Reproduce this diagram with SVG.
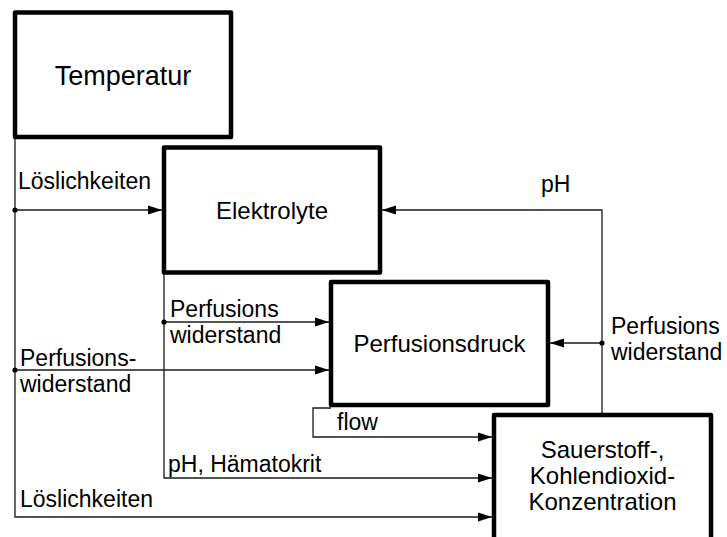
<svg xmlns="http://www.w3.org/2000/svg" width="727" height="537" viewBox="0 0 727 537">
  <style>
    .box { fill: #ffffff; stroke: #000000; stroke-width: 4.5; stroke-linejoin: round; }
    .node-text { font-family: "Liberation Sans", Arial, sans-serif; font-size: 24px; fill: #000000; text-anchor: middle; }
    .title-text { font-size: 27px; }
    .wire { fill: none; stroke: #1a1a1a; stroke-width: 1.3; }
    .arrow { marker-end: url(#head); }
    .label { font-family: "Liberation Sans", Arial, sans-serif; font-size: 23px; fill: #000000; }
    .joint { fill: #000000; }
  </style>
  <defs>
    <marker id="head" markerUnits="userSpaceOnUse" markerWidth="15" markerHeight="10" refX="14" refY="5" orient="auto">
      <path d="M0,0.5 L14,5 L0,9.5 Z" fill="#000000"/>
    </marker>
  </defs>
  <rect width="727" height="537" fill="#ffffff"/>

  <!-- connectors -->
  <g id="connectors">
    <!-- Temperatur trunk down the left side -->
    <path class="wire arrow" d="M15,137 V517 H492"/>
    <path class="wire arrow" d="M15,210 H162"/>
    <path class="wire arrow" d="M15,370 H329"/>
    <circle class="joint" cx="15" cy="210" r="2.6"/>
    <circle class="joint" cx="15" cy="370" r="2.6"/>

    <!-- Elektrolyte trunk -->
    <path class="wire arrow" d="M164,272 V478 H492"/>
    <path class="wire arrow" d="M164,322 H329"/>
    <circle class="joint" cx="164" cy="322" r="2.6"/>

    <!-- flow from Perfusionsdruck -->
    <path class="wire arrow" d="M331,408 H313 V437 H492"/>

    <!-- feedback from Sauerstoff box -->
    <path class="wire arrow" d="M602,415 V210 H382"/>
    <path class="wire arrow" d="M602,343 H550"/>
    <circle class="joint" cx="602" cy="343" r="2.6"/>

    <!-- connector labels -->
    <text class="label" x="18" y="189">Löslichkeiten</text>
    <text class="label" x="170" y="317">Perfusions</text>
    <text class="label" x="170" y="343">widerstand</text>
    <text class="label" x="20" y="366">Perfusions-</text>
    <text class="label" x="20" y="392">widerstand</text>
    <text class="label" x="337" y="430">flow</text>
    <text class="label" x="168" y="472">pH, Hämatokrit</text>
    <text class="label" x="20" y="507">Löslichkeiten</text>
    <text class="label" x="541" y="192">pH</text>
    <text class="label" x="611" y="334">Perfusions</text>
    <text class="label" x="611" y="360">widerstand</text>
  </g>

  <g id="temperatur">
    <rect class="box" x="15" y="12.5" width="216" height="124.5"/>
    <text class="node-text title-text" x="123" y="85">Temperatur</text>
  </g>

  <g id="elektrolyte">
    <rect class="box" x="164" y="147.5" width="216" height="125"/>
    <text class="node-text" x="272" y="219">Elektrolyte</text>
  </g>

  <g id="perfusionsdruck">
    <rect class="box" x="331" y="282" width="217" height="123"/>
    <text class="node-text" x="439.5" y="352">Perfusionsdruck</text>
  </g>

  <g id="konzentration">
    <rect class="box" x="494" y="415" width="217" height="140"/>
    <text class="node-text" x="602.5" y="458">Sauerstoff-,</text>
    <text class="node-text" x="602.5" y="484">Kohlendioxid-</text>
    <text class="node-text" x="602.5" y="510">Konzentration</text>
  </g>
</svg>
